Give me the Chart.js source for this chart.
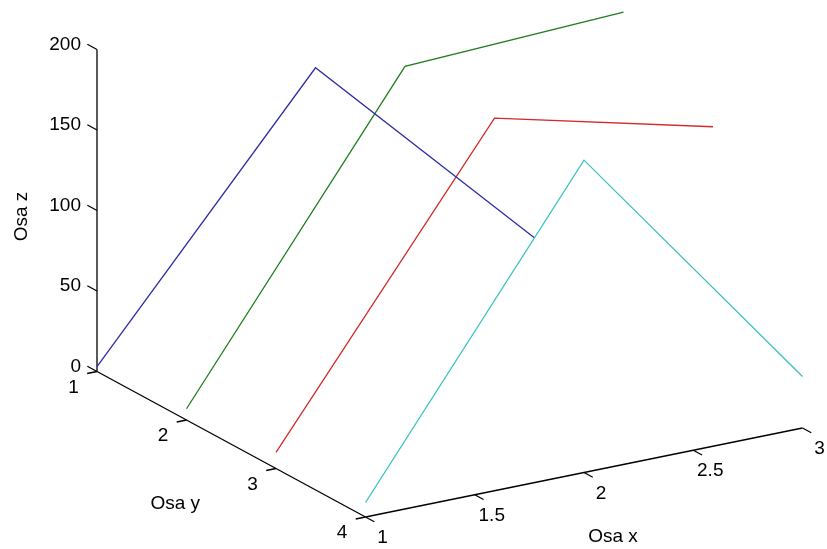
<!DOCTYPE html>
<html>
<head>
<meta charset="utf-8">
<script src="https://cdn.jsdelivr.net/npm/chart.js@4/dist/chart.umd.min.js"></script>
<style>
  html, body { margin: 0; padding: 0; background: #ffffff; }
  #plot { display: block; }
</style>
</head>
<body>
<canvas id="plot" width="827" height="549"></canvas>
<script>
// Sample grid: x positions along each line, and the y row each line sits on
const xValues = [1, 2, 3];
const yRows = [1, 2, 3, 4];

// Heights (z) of each line at x = 1, 2, 3
const zRow1 = [3, 161, 28];
const zRow2 = [7, 192, 198];
const zRow3 = [10, 190, 157];
const zRow4 = [9, 194, 32];

const lineColors = ['#2e2ea6', '#1f7d1f', '#d42a2a', '#35c2c2'];

// Axis ticks
const xTicks = [1, 1.5, 2, 2.5, 3];
const yTicks = [1, 2, 3, 4];
const zTicks = [0, 50, 100, 150, 200];
const xTickLabels = ['1', '1.5', '2', '2.5', '3'];
const yTickLabels = ['1', '2', '3', '4'];
const zTickLabels = ['0', '50', '100', '150', '200'];

const xTitle = 'Osa x';
const yTitle = 'Osa y';
const zTitle = 'Osa z';

// Axis limits of the 3-D box
const xLim = [1, 3];
const yLim = [1, 4];
const zLim = [0, 200];

// Oblique view: screen position of the box corner and one-unit steps
const view = {
  origin: [97, 371.5],
  ex: [218.5, -44.5],
  ey: [89.5, 48.5],
  zPerUnit: 1.61
};

function project(x, y, z) {
  const dx = x - xLim[0], dy = y - yLim[0], dz = z - zLim[0];
  return {
    x: view.origin[0] + dx * view.ex[0] + dy * view.ey[0],
    y: view.origin[1] + dx * view.ex[1] + dy * view.ey[1] - dz * view.zPerUnit
  };
}

const zRows = [zRow1, zRow2, zRow3, zRow4];
const datasets = yRows.map((yv, i) => ({
  data: xValues.map((xv, j) => project(xv, yv, zRows[i][j])),
  borderColor: lineColors[i],
  backgroundColor: lineColors[i],
  borderWidth: 1.3,
  showLine: true,
  pointRadius: 0,
  tension: 0
}));

function unit(v, len) {
  const n = Math.hypot(v[0], v[1]);
  return [v[0] / n * len, v[1] / n * len];
}

const FONT = '19px "Liberation Sans", Arial, sans-serif';

const boxAxes = {
  id: 'boxAxes',
  beforeDatasetsDraw(chart) {
    const ctx = chart.ctx;
    const sx = chart.scales.x, sy = chart.scales.y;
    const px = p => [sx.getPixelForValue(p.x), sy.getPixelForValue(p.y)];

    ctx.save();
    ctx.strokeStyle = '#000000';
    ctx.lineWidth = 1.3;
    ctx.lineCap = 'butt';

    const seg = (a, b) => {
      ctx.beginPath();
      ctx.moveTo(a[0], a[1]);
      ctx.lineTo(b[0], b[1]);
      ctx.stroke();
    };

    // axis lines
    seg(px(project(xLim[0], yLim[0], zLim[0])), px(project(xLim[0], yLim[0], zLim[1])));
    seg(px(project(xLim[0], yLim[0], zLim[0])), px(project(xLim[0], yLim[1], zLim[0])));
    seg(px(project(xLim[0], yLim[1], zLim[0])), px(project(xLim[1], yLim[1], zLim[0])));

    const zTickDir = unit([-view.ey[0], -view.ey[1]], 11);
    const yTickDir = unit([-view.ex[0], -view.ex[1]], 10);
    const xTickDir = unit(view.ey, 10);

    ctx.fillStyle = '#000000';
    ctx.font = FONT;

    // z ticks and labels
    ctx.textAlign = 'right';
    ctx.textBaseline = 'middle';
    zTicks.forEach((t, i) => {
      const a = px(project(xLim[0], yLim[0], t));
      seg(a, [a[0] + zTickDir[0], a[1] + zTickDir[1]]);
      ctx.fillText(zTickLabels[i], a[0] - 16, a[1] - 5);
    });

    // y ticks and labels
    ctx.textAlign = 'center';
    yTicks.forEach((t, i) => {
      const a = px(project(xLim[0], t, zLim[0]));
      seg(a, [a[0] + yTickDir[0], a[1] + yTickDir[1]]);
      ctx.fillText(yTickLabels[i], a[0] - 23.5, a[1] + 16);
    });

    // x ticks and labels
    xTicks.forEach((t, i) => {
      const a = px(project(t, yLim[1], zLim[0]));
      seg(a, [a[0] + xTickDir[0], a[1] + xTickDir[1]]);
      ctx.fillText(xTickLabels[i], a[0] + 17, a[1] + 21);
    });

    // axis titles
    const xMid = px(project((xLim[0] + xLim[1]) / 2, yLim[1], zLim[0]));
    ctx.fillText(xTitle, xMid[0] + 29, xMid[1] + 64);
    const yMid = px(project(xLim[0], (yLim[0] + yLim[1]) / 2, zLim[0]));
    ctx.fillText(yTitle, yMid[0] - 56, yMid[1] + 60);
    const zMid = px(project(xLim[0], yLim[0], (zLim[0] + zLim[1]) / 2));
    ctx.save();
    ctx.translate(zMid[0] - 75, zMid[1] + 6);
    ctx.rotate(-Math.PI / 2);
    ctx.fillText(zTitle, 0, 0);
    ctx.restore();

    ctx.restore();
  }
};

new Chart(document.getElementById('plot'), {
  type: 'scatter',
  data: { datasets },
  options: {
    responsive: false,
    animation: false,
    layout: { padding: 0 },
    scales: {
      x: { type: 'linear', min: 0, max: 827, display: false },
      y: { type: 'linear', min: 0, max: 549, reverse: true, display: false }
    },
    plugins: {
      legend: { display: false },
      tooltip: { enabled: false }
    }
  },
  plugins: [boxAxes]
});
</script>
</body>
</html>
